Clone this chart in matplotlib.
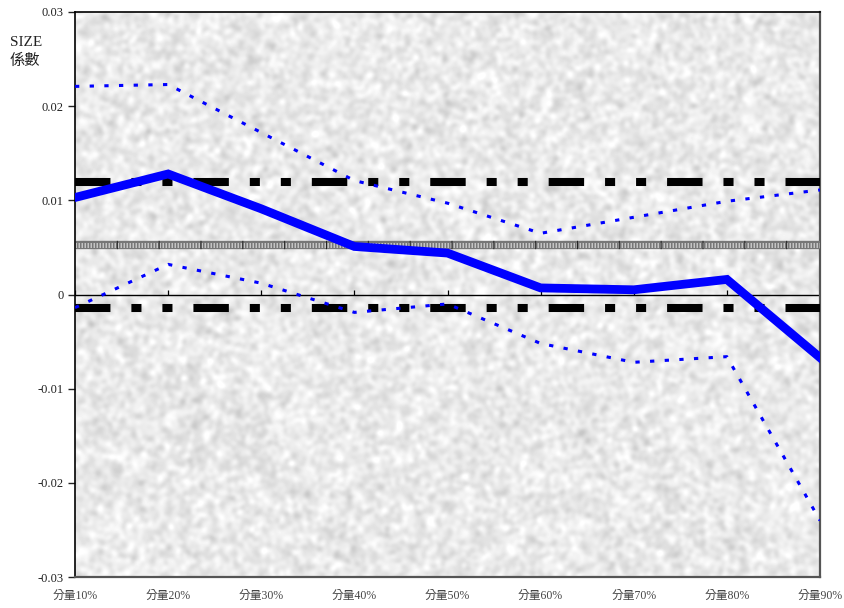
"""Quantile regression coefficients for SIZE, with confidence band and OLS reference lines."""

import numpy as np
import matplotlib

matplotlib.use("Agg")
import matplotlib.pyplot as plt

plt.rcParams["font.family"] = ["Liberation Serif", "Noto Sans CJK TC"]

quantiles = ["分量10%", "分量20%", "分量30%", "分量40%", "分量50%",
             "分量60%", "分量70%", "分量80%", "分量90%"]
coef = [0.0103, 0.0128, 0.0091, 0.0051, 0.0044, 0.0007, 0.0005, 0.0016, -0.0067]
upper = [0.0221, 0.0223, 0.0172, 0.0121, 0.0097, 0.0065, 0.0082, 0.0099, 0.0111]
lower = [-0.0014, 0.0032, 0.0012, -0.0019, -0.0010, -0.0052, -0.0072, -0.0066, -0.0240]
ols_coef = 0.0053
ols_upper = 0.0120
ols_lower = -0.0014
yticks = [0.03, 0.02, 0.01, 0, -0.01, -0.02, -0.03]
ytick_labels = ["0.03", "0.02", "0.01", "0", "-0.01", "-0.02", "-0.03"]


def granite_texture(h, w, seed=3):
    # smoothed noise for the grey stone-like backdrop
    rng = np.random.default_rng(seed)
    noise = rng.standard_normal((h, w))
    fy = np.fft.fftfreq(h)[:, None]
    fx = np.fft.fftfreq(w)[None, :]
    sigma = 2.4
    kernel = np.exp(-2 * (np.pi * sigma) ** 2 * (fx ** 2 + fy ** 2))
    smooth = np.real(np.fft.ifft2(np.fft.fft2(noise) * kernel))
    smooth = (smooth - smooth.mean()) / smooth.std()
    return np.clip(0.915 + 0.032 * smooth, 0.78, 1.0)


fig = plt.figure(figsize=(8.44, 6.08), dpi=100)
ax = fig.add_axes([75 / 844, 31 / 608, 745 / 844, 565 / 608])

x = np.arange(len(quantiles))
ax.set_xlim(x[0], x[-1])
ax.set_ylim(-0.03, 0.03)

tex = granite_texture(565, 745)
ax.imshow(tex, cmap="gray", vmin=0, vmax=1, extent=[0, 1, 0, 1],
          transform=ax.transAxes, aspect="auto", zorder=0, interpolation="bilinear")

# zero axis line with small upward ticks at each quantile
ax.axhline(0, color="black", lw=1.0, zorder=2)
ax.vlines(x, 0, 0.00045, color="black", lw=0.9, zorder=2)

# OLS coefficient: patterned grey band
ax.axhline(ols_coef, color="#777777", lw=6.0, zorder=3)
ax.axhline(ols_coef, color="#c4c4c4", lw=3.6, dashes=(0.3, 0.3), zorder=3)
ax.axhline(ols_coef, color="#222222", lw=6.0, dashes=(0.12, 4.9), zorder=3)

# OLS confidence bounds: long-short-short dash
for yv in (ols_upper, ols_lower):
    ax.axhline(yv, color="black", lw=5.8, dashes=(4.4, 2.6, 1.25, 2.6, 1.25, 2.6),
               solid_capstyle="butt", dash_capstyle="butt", zorder=4)

# quantile confidence bounds
for band in (upper, lower):
    ax.plot(x, band, color="#0000ff", lw=2.2, dashes=(1.4, 3.4), zorder=5)

# quantile regression coefficient
ax.plot(x, coef, color="#0000ff", lw=6.3, solid_joinstyle="miter", zorder=6)

ax.set_yticks(yticks)
ax.set_yticklabels(ytick_labels)
ax.set_xticks(x)
ax.set_xticklabels(quantiles)
ax.tick_params(axis="y", direction="out", length=5, width=1, pad=3,
               labelsize=9, colors="#222222")
ax.tick_params(axis="x", length=0, pad=9, labelsize=8.5, colors="#444444")

for side in ("left", "top"):
    ax.spines[side].set_color("black")
    ax.spines[side].set_linewidth(1.2)
for side in ("right", "bottom"):
    ax.spines[side].set_color("#555555")
    ax.spines[side].set_linewidth(1.6)

fig.text(10 / 844, 1 - 43 / 608, "SIZE", fontsize=11, color="#222222",
         ha="left", va="center")
fig.text(10 / 844, 1 - 61 / 608, "係數", fontsize=11, color="#222222",
         ha="left", va="center")

fig.savefig("out.png", dpi=100)
